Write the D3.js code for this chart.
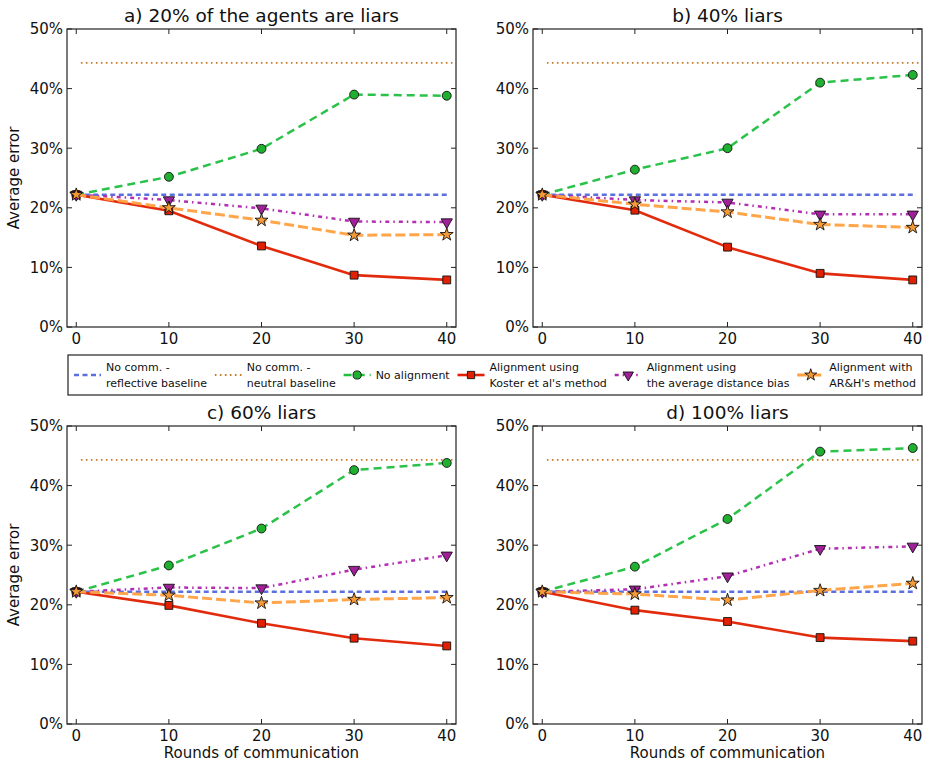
<!DOCTYPE html>
<html>
<head>
<meta charset="utf-8">
<script src="https://cdn.jsdelivr.net/npm/d3@7"></script>
<style>
  body { margin: 0; background: #fff; }
  svg { font-family: "DejaVu Sans", sans-serif; }
</style>
</head>
<body>
<div id="chart"></div>
<script>
// rounds of communication (x) and values per panel (a, b, c, d), in %
const rounds = [0, 10, 20, 30, 40]
const panelTitles = ["a) 20% of the agents are liars", "b) 40% liars", "c) 60% liars", "d) 100% liars"]
const yTicks = [0, 10, 20, 30, 40, 50]

const reflectiveBaseline = 22.2
const neutralBaseline = 44.3

const noAlignment = [
    [22.2, 25.2, 29.9, 39.0, 38.8],
    [22.2, 26.4, 30.0, 41.0, 42.3],
    [22.2, 26.6, 32.8, 42.6, 43.8],
    [22.2, 26.4, 34.4, 45.7, 46.3]
]
const kosterMethod = [
    [22.2, 19.5, 13.6, 8.7, 7.9],
    [22.2, 19.6, 13.4, 9.0, 7.9],
    [22.2, 19.9, 16.9, 14.4, 13.1],
    [22.2, 19.1, 17.2, 14.5, 13.9]
]
const avgDistanceBias = [
    [22.2, 21.3, 19.9, 17.7, 17.6],
    [22.2, 21.3, 20.9, 18.9, 18.9],
    [22.2, 22.9, 22.8, 25.9, 28.3],
    [22.2, 22.6, 24.8, 29.4, 29.8]
]
const arhMethod = [
    [22.2, 20.0, 17.9, 15.4, 15.5],
    [22.2, 20.6, 19.3, 17.2, 16.7],
    [22.2, 21.6, 20.3, 20.9, 21.2],
    [22.2, 21.8, 20.8, 22.4, 23.6]
]

// styles of every series (baselines first, then the marked ones in draw order)
const styles = [
    { label: ["No comm. -", "reflective baseline"], color: "#5b6fe0", dash: "5,3.5", width: 2.5, marker: null },
    { label: ["No comm. -", "neutral baseline"], color: "#c87a28", dash: "1.6,3.4", width: 1.8, marker: null },
    { label: ["No alignment"], color: "#1fbf3f", dash: "8,5", width: 2.5, marker: "circle", fill: "#20b030" },
    { label: ["Alignment using", "Koster et al's method"], color: "#e02000", dash: null, width: 2.6, marker: "square", fill: "#e02000" },
    { label: ["Alignment using", "the average distance bias"], color: "#b023b0", dash: "4,4,1.5,4", width: 2.5, marker: "triangle", fill: "#a0209a" },
    { label: ["Alignment with", "AR&H's method"], color: "#ffa040", dash: "10,4", width: 3, marker: "star", fill: "#f49a38" }
]
const markedSeries = [noAlignment, kosterMethod, avgDistanceBias, arhMethod]

const W = 929, H = 762
const panelW = 389, panelH = 298
const panelLeft = [67, 533], panelTop = [29, 426]

const svg = d3.select("#chart").append("svg")
    .attr("width", W)
    .attr("height", H)

function markerPath(kind, scale = 1) {
    if (kind === "circle") return d3.symbol(d3.symbolCircle, 62 * scale)()
    if (kind === "square") return d3.symbol(d3.symbolSquare, 62 * scale)()
    if (kind === "triangle") return d3.symbol(d3.symbolTriangle, 55 * scale)()
    return d3.symbol(d3.symbolStar, 52 * scale)()
}
function markerTransform(kind, x, y) {
    // triangles point down
    return kind === "triangle" ? `translate(${x},${y}) rotate(180)` : `translate(${x},${y})`
}

panelTitles.forEach((title, p) => {
    const col = p % 2, row = Math.floor(p / 2)
    const g = svg.append("g")
        .attr("transform", `translate(${panelLeft[col]},${panelTop[row]})`)

    const x = d3.scaleLinear().domain([-1, 41]).range([0, panelW])
    const y = d3.scaleLinear().domain([0, 50]).range([panelH, 0])

    g.append("clipPath").attr("id", `clip${p}`)
        .append("rect").attr("width", panelW).attr("height", panelH)

    const plot = g.append("g").attr("clip-path", `url(#clip${p})`)

    // baselines
    plot.append("line")
        .attr("x1", x(0)).attr("x2", x(40))
        .attr("y1", y(reflectiveBaseline)).attr("y2", y(reflectiveBaseline))
        .attr("stroke", styles[0].color).attr("stroke-width", styles[0].width)
        .attr("stroke-dasharray", styles[0].dash)
    plot.append("line")
        .attr("x1", x(0.5)).attr("x2", x(41))
        .attr("y1", y(neutralBaseline)).attr("y2", y(neutralBaseline))
        .attr("stroke", styles[1].color).attr("stroke-width", styles[1].width)
        .attr("stroke-dasharray", styles[1].dash)

    const line = d3.line()
        .x((d, i) => x(rounds[i]))
        .y(d => y(d))

    markedSeries.forEach((series, s) => {
        const st = styles[s + 2]
        const values = series[p]
        plot.append("path")
            .attr("d", line(values))
            .attr("fill", "none")
            .attr("stroke", st.color)
            .attr("stroke-width", st.width)
            .attr("stroke-dasharray", st.dash)
            .attr("stroke-linejoin", "round")
            .attr("opacity", 0.95)
        plot.selectAll(`.m${s}`)
            .data(values)
            .join("path")
            .attr("class", `m${s}`)
            .attr("d", markerPath(st.marker))
            .attr("transform", (d, i) => markerTransform(st.marker, x(rounds[i]), y(d)))
            .attr("fill", st.fill)
            .attr("stroke", "#111")
            .attr("stroke-width", 0.9)
    })

    // frame + inward ticks on all sides
    g.append("rect")
        .attr("width", panelW).attr("height", panelH)
        .attr("fill", "none").attr("stroke", "#222").attr("stroke-width", 1.2)

    const tickLen = 5
    rounds.forEach(r => {
        g.append("line").attr("x1", x(r)).attr("x2", x(r)).attr("y1", panelH).attr("y2", panelH - tickLen)
            .attr("stroke", "#222")
        g.append("line").attr("x1", x(r)).attr("x2", x(r)).attr("y1", 0).attr("y2", tickLen)
            .attr("stroke", "#222")
        g.append("text").attr("x", x(r)).attr("y", panelH + 17)
            .attr("text-anchor", "middle").attr("font-size", 15).attr("fill", "#111")
            .text(r)
    })
    yTicks.forEach(t => {
        g.append("line").attr("x1", 0).attr("x2", tickLen).attr("y1", y(t)).attr("y2", y(t))
            .attr("stroke", "#222")
        g.append("line").attr("x1", panelW).attr("x2", panelW - tickLen).attr("y1", y(t)).attr("y2", y(t))
            .attr("stroke", "#222")
        g.append("text").attr("x", -4).attr("y", y(t)).attr("dy", "0.36em")
            .attr("text-anchor", "end").attr("font-size", 15).attr("fill", "#111")
            .text(t + "%")
    })

    g.append("text")
        .attr("x", panelW / 2).attr("y", -7)
        .attr("text-anchor", "middle").attr("font-size", 18.5).attr("fill", "#111")
        .text(title)

    if (col === 0) {
        g.append("text")
            .attr("transform", `translate(${-53},${panelH / 2}) rotate(-90)`)
            .attr("dy", "0.35em")
            .attr("text-anchor", "middle").attr("font-size", 15).attr("fill", "#111")
            .text("Average error")
    }
    if (row === 1) {
        g.append("text")
            .attr("x", panelW / 2).attr("y", panelH + 34)
            .attr("text-anchor", "middle").attr("font-size", 15).attr("fill", "#111")
            .text("Rounds of communication")
    }
})

// Legend
const legendW = 854
const legend = svg.append("g").attr("transform", "translate(68,355)")
legend.append("rect")
    .attr("width", legendW).attr("height", 40)
    .attr("fill", "#fff").attr("stroke", "#222").attr("stroke-width", 1.2)

const handleLen = 27, textGap = 5, pad = 6
const items = styles.map(st => {
    const item = legend.append("g")
    item.append("line")
        .attr("x1", 0).attr("x2", handleLen).attr("y1", 20).attr("y2", 20)
        .attr("stroke", st.color).attr("stroke-width", st.width)
        .attr("stroke-dasharray", st.dash)
    if (st.marker) {
        item.append("path")
            .attr("d", markerPath(st.marker, 0.85))
            .attr("transform", markerTransform(st.marker, handleLen / 2, 20))
            .attr("fill", st.fill).attr("stroke", "#111").attr("stroke-width", 0.9)
    }
    const txt = item.append("text")
        .attr("font-size", 11).attr("fill", "#111")
    st.label.forEach((t, i) => {
        txt.append("tspan")
            .attr("x", handleLen + textGap)
            .attr("y", st.label.length === 1 ? 24 : 16 + i * 16)
            .text(t)
    })
    const tw = d3.max(txt.selectAll("tspan").nodes(), n => n.getComputedTextLength())
    return { item, w: handleLen + textGap + tw }
})
const spacing = (legendW - 2 * pad - d3.sum(items, d => d.w)) / (items.length - 1)
let lx = pad
items.forEach(d => {
    d.item.attr("transform", `translate(${lx},0)`)
    lx += d.w + spacing
})
</script>
</body>
</html>
